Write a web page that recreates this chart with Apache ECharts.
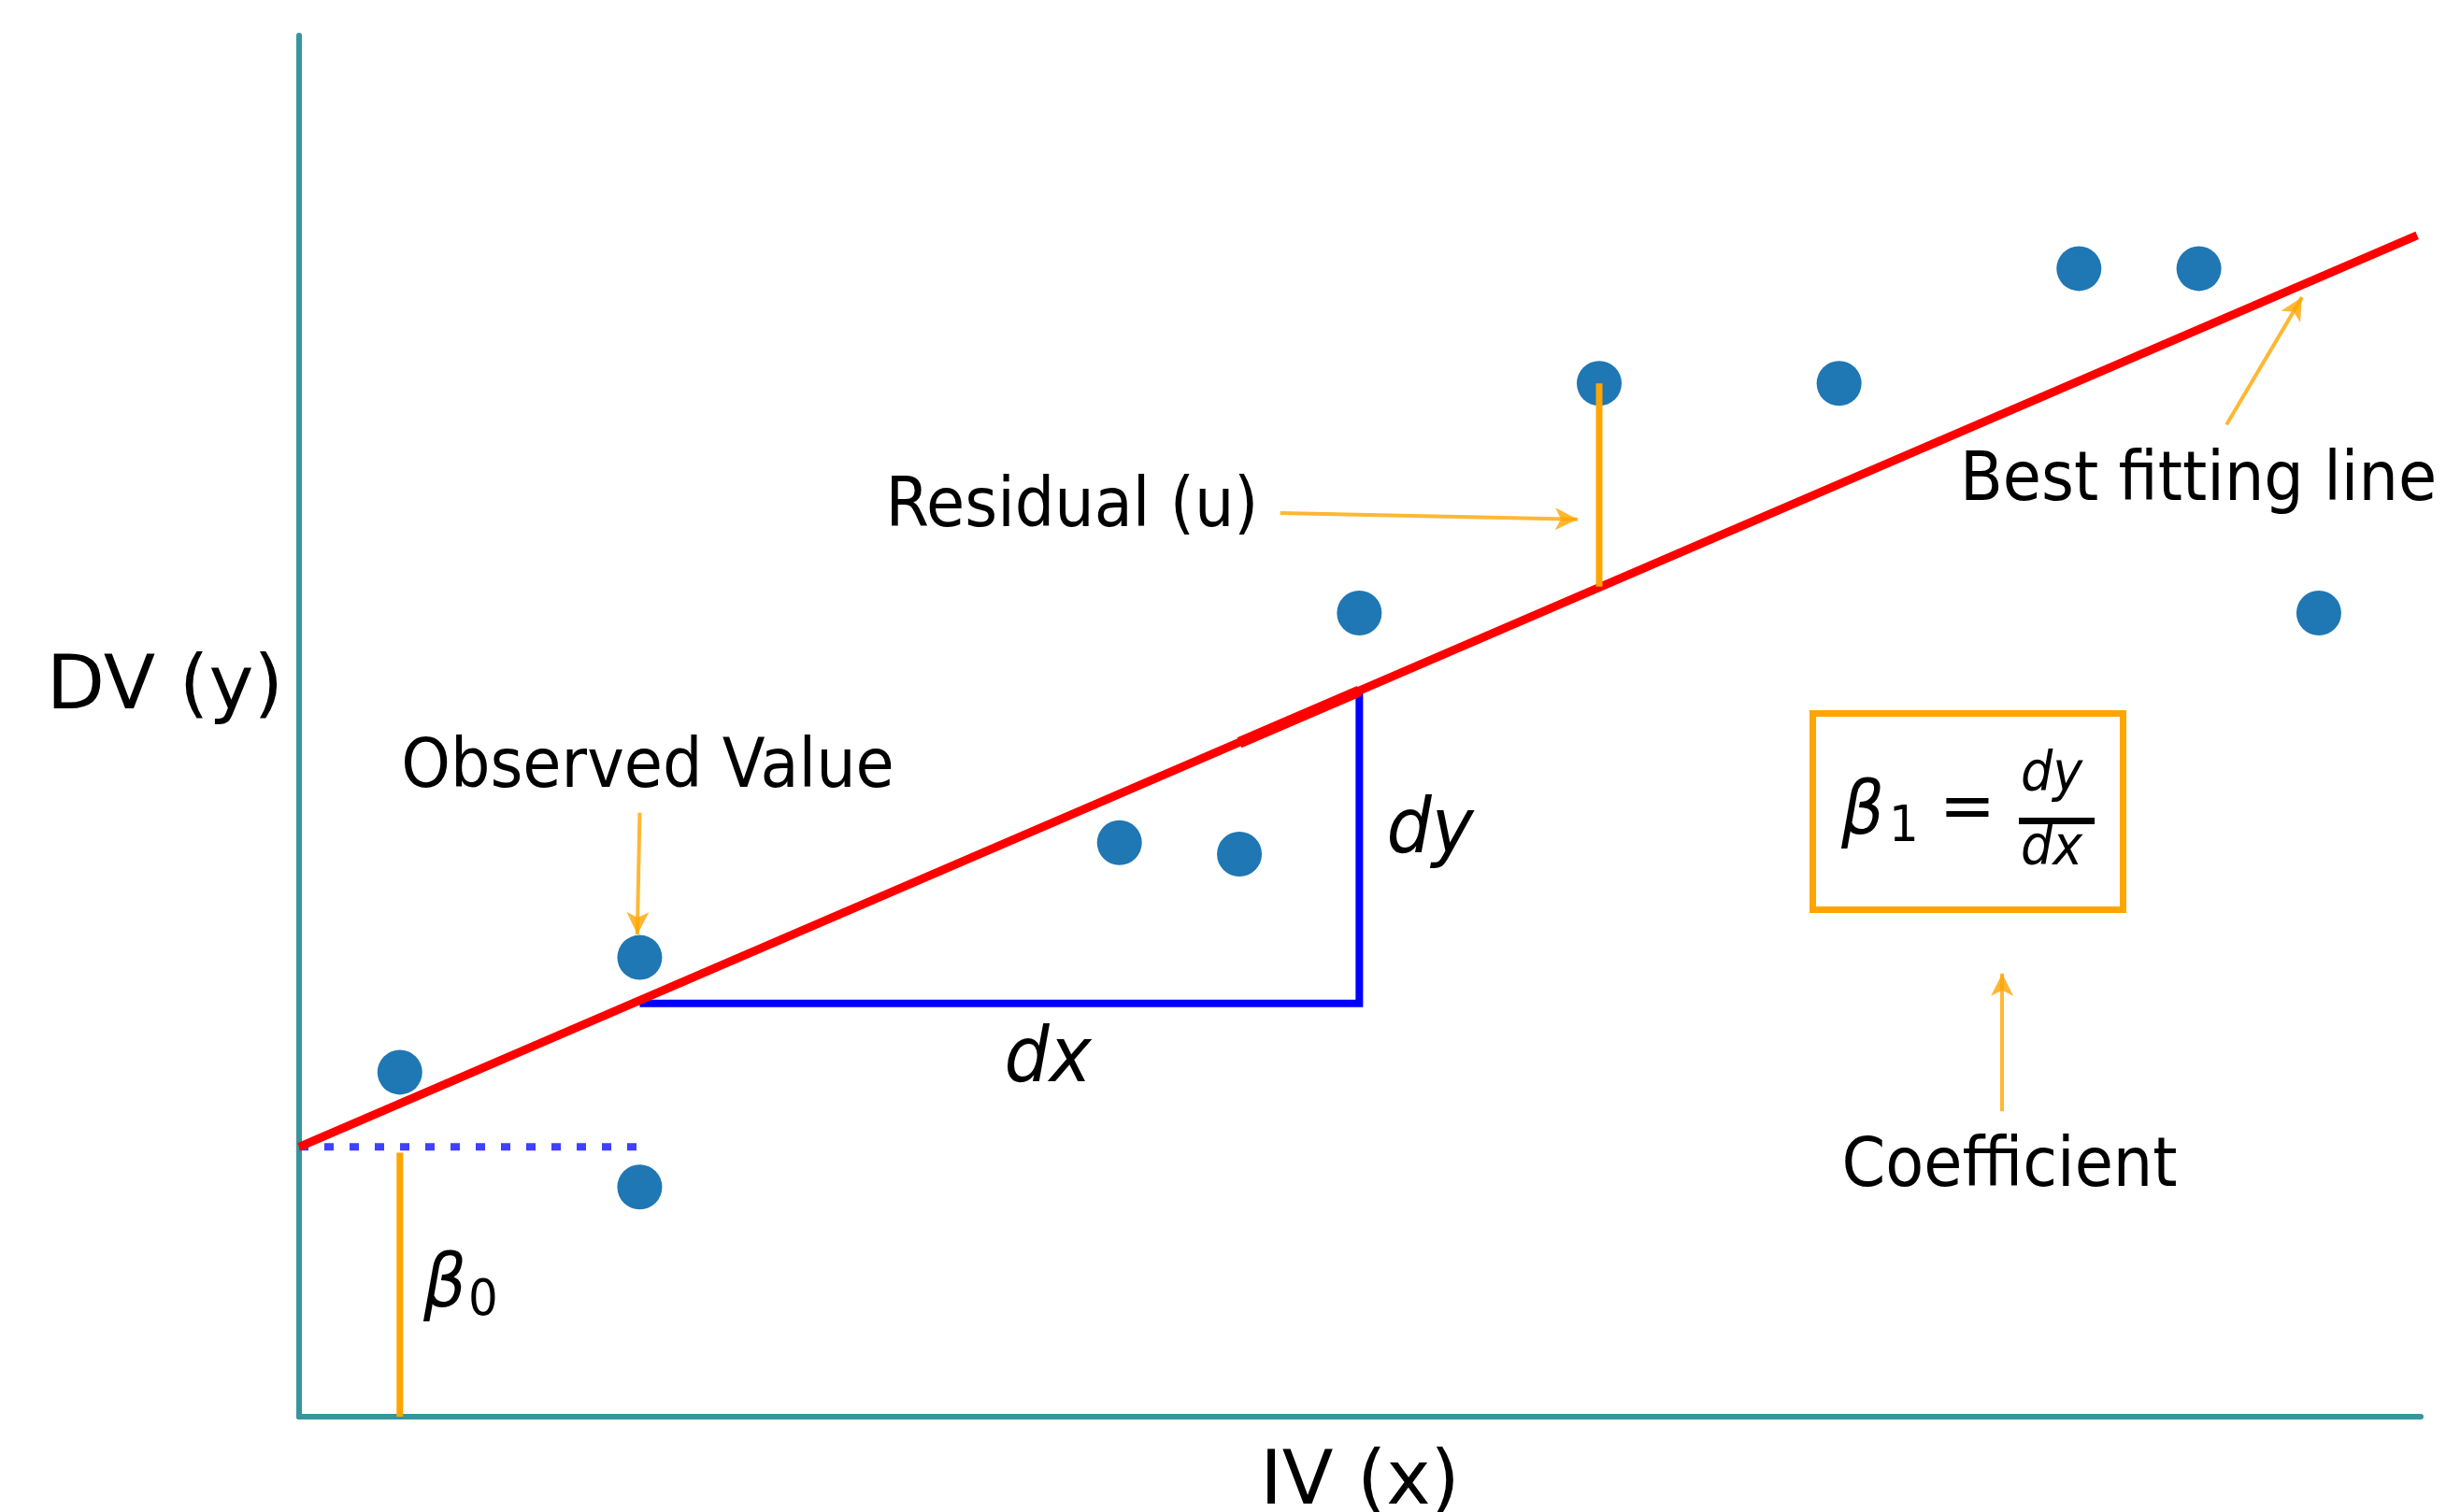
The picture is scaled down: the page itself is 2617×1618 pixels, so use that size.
<!DOCTYPE html>
<html>
<head>
<meta charset="utf-8">
<script src="https://cdn.jsdelivr.net/npm/echarts@6/dist/echarts.min.js"></script>
<style>
  html, body { margin: 0; padding: 0; background: #ffffff; }
  #chart { width: 2617px; height: 1618px; }
</style>
</head>
<body>
<div id="chart"></div>
<script>
// ---- data ----
const xValues = [1, 2, 2, 4, 4.5, 5, 6, 7, 8, 8.5, 9];
const yValues = [3, 4, 2, 5, 4.9, 7, 9, 9, 10, 10, 7];

const fitX = [0.58, 9.41];        // best fitting line end points
const fitY = [2.35, 10.29];

const highlightX = [4.5, 5.0];    // slightly thicker piece of the fit line
const highlightY = [5.87, 6.32];

const interceptX = [0.58, 2.0];   // dotted beta0 guide
const interceptY = 2.35;

const beta0X = 1;                 // vertical beta0 marker
const beta0Y = [0, 2.3];

const triangleX = [2, 5, 5];      // dx / dy triangle
const triangleY = [3.6, 3.6, 6.3];

const residualX = 6;              // residual u
const residualY = [9, 7.23];

// annotation arrows: [fromX, fromY, toX, toY]
const arrowObserved = [2.0, 5.26, 1.99, 4.2];
const arrowResidual = [4.67, 7.87, 5.91, 7.815];
const arrowBestFit  = [8.615, 8.64, 8.93, 9.75];
const arrowCoeff    = [7.68, 2.66, 7.68, 3.86];

const xMin = 0.58, xMax = 9.425, yMin = 0, yMax = 12.03;

// ---- build ----
const pts = xValues.map((x, i) => [x, yValues[i]]);
const pair = (xs, ys) => xs.map((x, i) => [x, ys[i]]);

const ORANGE = '#ffa500';
const AXIS = '#35969c';
const FONT = 'DejaVu Sans';

function arrow(a) {
  return [{ coord: [a[0], a[1]] }, { coord: [a[2], a[3]] }];
}

function txt(text, x, y, size, italic, sy) {
  return {
    type: 'text', x: x, y: y, z: 100, scaleY: sy || 1,
    style: {
      text: text, fontSize: size, fontFamily: FONT,
      fontStyle: italic ? 'italic' : 'normal',
      fill: '#000', align: 'center', verticalAlign: 'middle'
    }
  };
}

const chart = echarts.init(document.getElementById('chart'), null, { renderer: 'canvas' });

const option = {
  backgroundColor: '#ffffff',
  animation: false,
  grid: { left: 320, right: 27, top: 38, bottom: 102, containLabel: false, outerBoundsMode: 'none' },
  xAxis: {
    type: 'value', min: xMin, max: xMax,
    axisLine: { show: true, onZero: false, lineStyle: { color: AXIS, width: 6 } },
    axisTick: { show: false }, axisLabel: { show: false }, splitLine: { show: false },
    name: 'IV (x)', nameLocation: 'middle', nameGap: 32,
    nameTextStyle: { fontFamily: FONT, fontSize: 80, color: '#000', verticalAlign: 'top' }
  },
  yAxis: {
    type: 'value', min: yMin, max: yMax,
    axisLine: { show: true, onZero: false, lineStyle: { color: AXIS, width: 6 } },
    axisTick: { show: false }, axisLabel: { show: false }, splitLine: { show: false },
    name: 'DV (y)', nameLocation: 'middle', nameRotate: 0, nameGap: 17,
    nameTextStyle: { fontFamily: FONT, fontSize: 81, color: '#000', align: 'right',
      verticalAlign: 'bottom' }
  },
  series: [
    {
      type: 'scatter', data: pts, symbol: 'circle', symbolSize: 48, z: 2,
      itemStyle: { color: '#1f77b4', opacity: 1 }, silent: true
    },
    {
      type: 'line', data: pair(fitX, fitY), symbol: 'none', z: 4,
      lineStyle: { color: '#ff0000', width: 9 }, silent: true
    },
    {
      type: 'line', data: pair(highlightX, highlightY), symbol: 'none', z: 4,
      lineStyle: { color: '#ff0000', width: 12 }, silent: true
    },
    {
      type: 'line', data: pair(triangleX, triangleY), symbol: 'none', z: 3,
      lineStyle: { color: '#0000ff', width: 8, join: 'miter' }, silent: true
    },
    {
      type: 'line', data: pair(interceptX, [interceptY, interceptY]), symbol: 'none', z: 3,
      lineStyle: { color: '#4040ff', width: 8, type: [10, 17] }, silent: true
    },
    {
      type: 'line', data: pair([beta0X, beta0X], beta0Y), symbol: 'none', z: 3,
      lineStyle: { color: ORANGE, width: 7 }, silent: true
    },
    {
      type: 'line', data: pair([residualX, residualX], residualY), symbol: 'none', z: 5,
      lineStyle: { color: ORANGE, width: 7 }, silent: true
    },
    {
      type: 'line', data: [], z: 6, silent: true,
      markLine: {
        silent: true, animation: false,
        symbol: ['none', 'arrow'], symbolSize: [18, 24],
        label: { show: false },
        lineStyle: { color: ORANGE, width: 4, type: 'solid', opacity: 0.8 },
        data: [arrow(arrowObserved), arrow(arrowResidual), arrow(arrowBestFit), arrow(arrowCoeff)]
      }
    }
  ],
  graphic: [
    txt('Observed Value', 693, 823, 67, false, 1.1),
    txt('Residual (u)', 1147, 544, 67, false, 1.1),
    txt('Best fitting line', 2352, 516, 67, false, 1.1),
    txt('Coefficient', 2150, 1250, 67, false, 1.1),
    txt('dy', 1530, 891, 76, true, 1.08),
    txt('dx', 1121, 1136, 76, true, 1.08),
    txt('β', 476, 1378, 72, true, 1.08),
    txt('0', 517, 1393, 50, false, 1.08),
    // coefficient box
    {
      type: 'rect', z: 90,
      shape: { x: 1939.5, y: 763.5, width: 332, height: 210 },
      style: { fill: '#ffffff', stroke: ORANGE, lineWidth: 7 }
    },
    txt('β', 1993, 872, 72, true, 1.08),
    txt('1', 2037, 886, 50, false, 1.08),
    txt('=', 2105, 867, 72, false),
    {
      type: 'rect', z: 100,
      shape: { x: 2160, y: 875, width: 81, height: 7 },
      style: { fill: '#000' }
    },
    txt('dy', 2195, 831, 54, true, 1.08),
    txt('dx', 2195, 910, 54, true, 1.08)
  ]
};

chart.setOption(option);
</script>
</body>
</html>
